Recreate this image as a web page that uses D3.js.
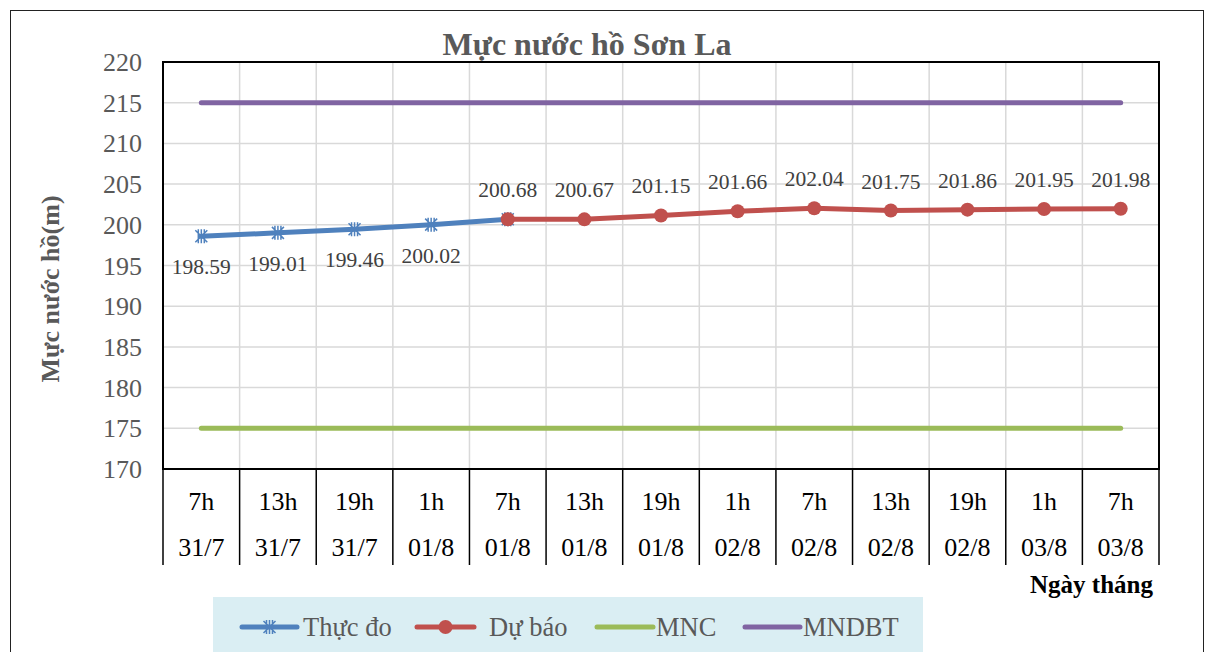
<!DOCTYPE html>
<html>
<head>
<meta charset="utf-8">
<script src="https://cdn.jsdelivr.net/npm/d3@7"></script>
<style>
  body { margin: 0; background: #fff; }
  svg { font-family: "Liberation Serif", "Times New Roman", serif; }
</style>
</head>
<body>
<svg class="chart" width="1205" height="652"></svg>
<script>
// data
var hours = ['7h', '13h', '19h', '1h', '7h', '13h', '19h', '1h', '7h', '13h', '19h', '1h', '7h'];
var days = ['31/7', '31/7', '31/7', '01/8', '01/8', '01/8', '01/8', '02/8', '02/8', '02/8', '02/8', '03/8', '03/8'];
var thucDo = [198.59, 199.01, 199.46, 200.02, 200.68, null, null, null, null, null, null, null, null];
var duBao = [null, null, null, null, 200.68, 200.67, 201.15, 201.66, 202.04, 201.75, 201.86, 201.95, 201.98];
var mnc = [175, 175, 175, 175, 175, 175, 175, 175, 175, 175, 175, 175, 175];
var mndbt = [215, 215, 215, 215, 215, 215, 215, 215, 215, 215, 215, 215, 215];
var yTicks = [170, 175, 180, 185, 190, 195, 200, 205, 210, 215, 220];

var svg = d3.select('svg.chart');

var plot = {l: 163, t: 62, r: 1159, b: 469};
var idx = d3.range(hours.length);

var x = d3.scaleBand().domain(idx).range([plot.l, plot.r]).padding(0);
var y = d3.scaleLinear().domain([170, 220]).range([plot.b, plot.t]);
var cx = function(i) { return x(i) + x.bandwidth() / 2; };

// outer frame
svg.append('rect')
  .attr('x', 10.5).attr('y', 10.5).attr('width', 1193).attr('height', 660)
  .attr('fill', '#fff').attr('stroke', '#222').attr('stroke-width', 1);

// gridlines
var grid = svg.append('g');
grid.selectAll('line.h')
  .data(yTicks)
  .enter().append('line')
  .attr('x1', plot.l).attr('x2', plot.r)
  .attr('y1', function(d) { return y(d); }).attr('y2', function(d) { return y(d); })
  .attr('stroke', '#d9d9d9').attr('stroke-width', 1.5);
grid.selectAll('line.v')
  .data(idx.slice(1))
  .enter().append('line')
  .attr('x1', function(i) { return x(i); }).attr('x2', function(i) { return x(i); })
  .attr('y1', plot.t).attr('y2', plot.b)
  .attr('stroke', '#d9d9d9').attr('stroke-width', 1.5);

// y axis labels
var yAxis = svg.append('g')
  .attr('transform', 'translate(' + (plot.l - 21) + ',0)')
  .call(d3.axisLeft(y).tickValues(yTicks).tickSize(0).tickPadding(0));
yAxis.select('.domain').remove();
yAxis.selectAll('text')
  .attr('font-family', '"Liberation Serif", serif')
  .attr('font-size', 26).attr('fill', '#595959').attr('dy', '0.33em');

// category table under the plot
var cats = svg.append('g');
cats.selectAll('line')
  .data(idx.concat([hours.length]))
  .enter().append('line')
  .attr('x1', function(i) { return i < hours.length ? x(i) : plot.r; })
  .attr('x2', function(i) { return i < hours.length ? x(i) : plot.r; })
  .attr('y1', plot.b).attr('y2', 565)
  .attr('stroke', '#000').attr('stroke-width', 1.5);
cats.selectAll('text.h')
  .data(hours)
  .enter().append('text')
  .attr('x', function(d, i) { return cx(i); }).attr('y', 510)
  .attr('text-anchor', 'middle').attr('font-size', 26).attr('fill', '#000')
  .text(function(d) { return d; });
cats.selectAll('text.d')
  .data(days)
  .enter().append('text')
  .attr('x', function(d, i) { return cx(i); }).attr('y', 556)
  .attr('text-anchor', 'middle').attr('font-size', 26).attr('fill', '#000')
  .text(function(d) { return d; });

// plot border
svg.append('rect')
  .attr('x', plot.l).attr('y', plot.t)
  .attr('width', plot.r - plot.l).attr('height', plot.b - plot.t)
  .attr('fill', 'none').attr('stroke', '#000').attr('stroke-width', 2);

// series
var line = d3.line()
  .defined(function(d) { return d != null; })
  .x(function(d, i) { return cx(i); })
  .y(function(d) { return y(d); });

function drawLine(values, color) {
  svg.append('path')
    .datum(values)
    .attr('d', line)
    .attr('fill', 'none').attr('stroke', color)
    .attr('stroke-width', 5).attr('stroke-linecap', 'round').attr('stroke-linejoin', 'round');
}
drawLine(mndbt, '#8064a2');
drawLine(mnc, '#9bbb59');
drawLine(thucDo, '#4f81bd');
drawLine(duBao, '#c0504d');

var star = 'M-6,-6L6,6M-6,6L6,-6M0,-7L0,7M-3,-7L-3,7M3,-7L3,7';
var points = function(values) {
  return values.map(function(v, i) { return {v: v, i: i}; }).filter(function(d) { return d.v != null; });
};

svg.selectAll('path.star')
  .data(points(thucDo))
  .enter().append('path')
  .attr('d', star)
  .attr('transform', function(d) { return 'translate(' + cx(d.i) + ',' + y(d.v) + ')'; })
  .attr('stroke', '#4f81bd').attr('stroke-width', 1.5).attr('fill', 'none');

svg.selectAll('circle.dot')
  .data(points(duBao))
  .enter().append('circle')
  .attr('cx', function(d) { return cx(d.i); })
  .attr('cy', function(d) { return y(d.v); })
  .attr('r', 7).attr('fill', '#c0504d');

// data labels
svg.selectAll('text.lblA')
  .data(points(thucDo).filter(function(d) { return duBao[d.i] == null; }))
  .enter().append('text')
  .attr('x', function(d) { return cx(d.i); })
  .attr('y', function(d) { return y(d.v) + 38; })
  .attr('text-anchor', 'middle').attr('font-size', 21.5).attr('fill', '#404040')
  .text(function(d) { return d.v.toFixed(2); });

svg.selectAll('text.lblB')
  .data(points(duBao))
  .enter().append('text')
  .attr('x', function(d) { return cx(d.i); })
  .attr('y', function(d) { return y(d.v) - 22; })
  .attr('text-anchor', 'middle').attr('font-size', 21.5).attr('fill', '#404040')
  .text(function(d) { return d.v.toFixed(2); });

// titles
svg.append('text')
  .attr('x', 587).attr('y', 55)
  .attr('text-anchor', 'middle').attr('font-size', 32).attr('font-weight', 'bold').attr('fill', '#595959')
  .text('Mực nước hồ Sơn La');

svg.append('text')
  .attr('transform', 'translate(59,289) rotate(-90)')
  .attr('text-anchor', 'middle').attr('font-size', 26).attr('font-weight', 'bold').attr('fill', '#595959')
  .text('Mực nước hồ(m)');

svg.append('text')
  .attr('x', 1153).attr('y', 593)
  .attr('text-anchor', 'end').attr('font-size', 25).attr('font-weight', 'bold').attr('fill', '#000')
  .text('Ngày tháng');

// legend
var legend = svg.append('g');
legend.append('rect')
  .attr('x', 213).attr('y', 597).attr('width', 710).attr('height', 60)
  .attr('fill', '#daeef3');

var legendItems = [
  {name: 'Thực đo', color: '#4f81bd', x1: 242, x2: 297, tx: 303, mark: 'star'},
  {name: 'Dự báo', color: '#c0504d', x1: 417, x2: 474, tx: 489, mark: 'dot'},
  {name: 'MNC', color: '#9bbb59', x1: 597, x2: 653, tx: 656, mark: null},
  {name: 'MNDBT', color: '#8064a2', x1: 745, x2: 800, tx: 803, mark: null}
];
var li = legend.selectAll('g.item')
  .data(legendItems)
  .enter().append('g');
li.append('line')
  .attr('x1', function(d) { return d.x1; }).attr('x2', function(d) { return d.x2; })
  .attr('y1', 627).attr('y2', 627)
  .attr('stroke', function(d) { return d.color; })
  .attr('stroke-width', 5).attr('stroke-linecap', 'round');
li.filter(function(d) { return d.mark === 'star'; }).append('path')
  .attr('d', star)
  .attr('transform', function(d) { return 'translate(' + ((d.x1 + d.x2) / 2) + ',627)'; })
  .attr('stroke', function(d) { return d.color; }).attr('stroke-width', 1.5);
li.filter(function(d) { return d.mark === 'dot'; }).append('circle')
  .attr('cx', function(d) { return (d.x1 + d.x2) / 2; }).attr('cy', 627).attr('r', 7)
  .attr('fill', function(d) { return d.color; });
li.append('text')
  .attr('x', function(d) { return d.tx; }).attr('y', 636)
  .attr('font-size', 26.5).attr('fill', '#595959')
  .text(function(d) { return d.name; });
</script>
</body>
</html>
